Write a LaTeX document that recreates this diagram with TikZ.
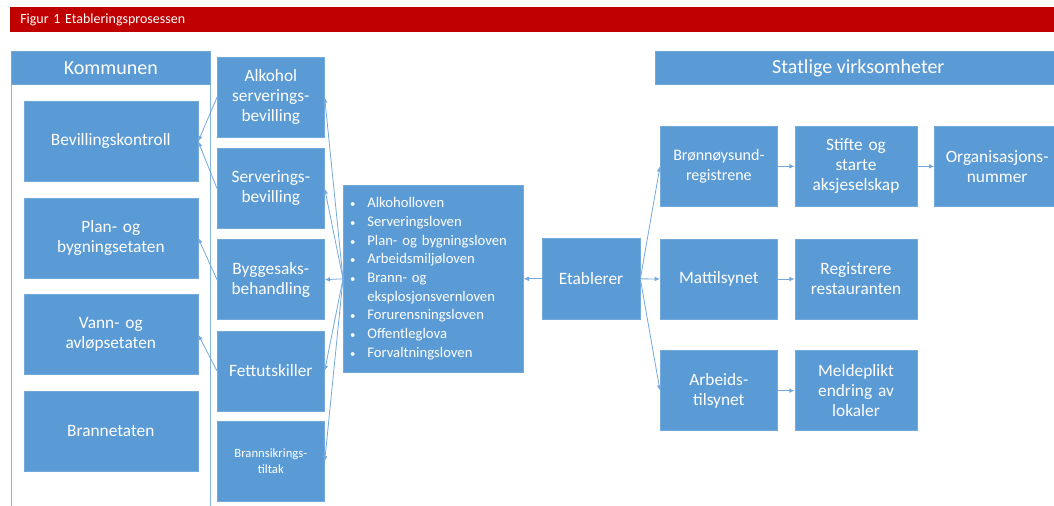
\documentclass[tikz,border=0pt]{standalone}
\usepackage{fontspec}
\setmainfont{Carlito}
\usepackage{tikz}
\usetikzlibrary{positioning, arrows.meta}
\definecolor{boksblaa}{HTML}{5B9BD5}
\definecolor{linjeblaa}{HTML}{74A9DD}
\definecolor{tittelrod}{HTML}{C00000}
\newcommand{\lovpunkt}{{\fontsize{8}{8}\selectfont\textbullet}}
\tikzset{
    tittelfelt/.style={rectangle, fill=tittelrod, text=white, text width=780pt, inner xsep=7.5pt, inner ysep=0pt, minimum height=18.75pt, align=left, font=\fontsize{10.5}{12}\selectfont},
    ramme/.style={draw=boksblaa!75!white, line width=0.6pt},
    boks_hode/.style={rectangle, draw=boksblaa!85!white, fill=boksblaa, line width=0.5pt, text=white, minimum height=24.75pt, inner sep=0pt, font=\fontsize{15}{18}\selectfont},
    boks_kommune/.style={rectangle, draw=boksblaa!85!white, fill=boksblaa, line width=0.5pt, text=white, minimum width=130.5pt, text width=124pt, minimum height=60pt, inner sep=0pt, align=center, font=\fontsize{13}{15}\selectfont},
    boks_midt/.style={rectangle, draw=boksblaa!85!white, fill=boksblaa, line width=0.5pt, text=white, minimum width=80.25pt, text width=77pt, minimum height=60pt, inner sep=0pt, align=center, font=\fontsize{13}{15}\selectfont},
    boks_lov/.style={rectangle, draw=boksblaa!85!white, fill=boksblaa, line width=0.5pt, text=white, text width=125pt, inner xsep=5pt, inner ysep=0pt, minimum height=140.25pt, align=left, font=\fontsize{11}{14}\selectfont},
    boks_stat/.style={rectangle, draw=boksblaa!85!white, fill=boksblaa, line width=0.5pt, text=white, minimum width=87.75pt, text width=85pt, minimum height=60pt, inner sep=0pt, align=center, font=\fontsize{13}{15}\selectfont},
    pil/.style={draw=linjeblaa, line width=0.6pt, -{Latex[length=4pt, width=3.5pt]}}
}
\begin{document}
\begin{tikzpicture}[x=0.75pt, y=-0.75pt, node distance=7.875pt]
    \useasboundingbox (0,0) rectangle (1054,506);
    \clip (0,0) rectangle (1054,506);

    \node[tittelfelt, anchor=north west] (tittel) at (10,7) {Figur 1 Etableringsprosessen};

    \draw[ramme] (11,520) -- (11,84) -- (210,84) -- (210,520);
    \node[boks_hode, anchor=north west, minimum width=149.25pt] (kommunen) at (11,51) {Kommunen};
    \node[boks_hode, anchor=north west, minimum width=304.5pt] (statlige) at (655,51) {Statlige virksomheter};

    \node[boks_kommune, anchor=north west] (bevilling) at (23.5,101) {Bevillingskontroll};
    \node[boks_kommune, below=12pt of bevilling] (plan) {Plan- og\\bygningsetaten};
    \node[boks_kommune, below=12pt of plan] (vann) {Vann- og\\avløpsetaten};
    \node[boks_kommune, below=12pt of vann] (brann) {Brannetaten};

    \node[boks_midt, anchor=north west] (alkohol) at (217,57) {Alkohol\\serverings-\\bevilling};
    \node[boks_midt, below=of alkohol] (servering) {Serverings-\\bevilling};
    \node[boks_midt, below=of servering] (byggesak) {Byggesaks-\\behandling};
    \node[boks_midt, below=of byggesak] (fett) {Fettutskiller};
    \node[boks_midt, below=7.5pt of fett, font=\fontsize{9.5}{12}\selectfont] (brannsikring) {Brannsikrings-\\tiltak};

    \node[boks_lov, anchor=north west] (lover) at (343,185) {%
        \begin{tabular}{@{}l@{\hspace{9pt}}l@{}}
            \lovpunkt & Alkoholloven\\
            \lovpunkt & Serveringsloven\\
            \lovpunkt & Plan- og bygningsloven\\
            \lovpunkt & Arbeidsmiljøloven\\
            \lovpunkt & Brann- og\\
                      & eksplosjonsvernloven\\
            \lovpunkt & Forurensningsloven\\
            \lovpunkt & Offentleglova\\
            \lovpunkt & Forvaltningsloven
        \end{tabular}};
    \node[boks_stat, minimum width=73.5pt, text width=70pt, right=13.5pt of lover] (etablerer) {Etablerer};

    \node[boks_stat, anchor=north west, font=\fontsize{12}{15}\selectfont] (bronnoy) at (660,126) {Brønnøysund-\\registrene};
    \node[boks_stat, minimum width=91.5pt, text width=88pt, right=12.75pt of bronnoy] (stifte) {Stifte og\\starte\\aksjeselskap};
    \node[boks_stat, minimum width=93.75pt, text width=90pt, right=12.75pt of stifte] (orgnr) {Organisasjons-\\nummer};
    \node[boks_stat, below=24pt of bronnoy] (matt) {Mattilsynet};
    \node[boks_stat, minimum width=91.5pt, text width=88pt, right=12.75pt of matt] (registrere) {Registrere\\restauranten};
    \node[boks_stat, below=23.25pt of matt] (arbeid) {Arbeids-\\tilsynet};
    \node[boks_stat, minimum width=91.5pt, text width=88pt, right=12.75pt of arbeid] (meldeplikt) {Meldeplikt\\endring av\\lokaler};

    \draw[pil] (lover.west) -- (alkohol.east);
    \draw[pil] (lover.west) -- (servering.east);
    \draw[pil] (lover.west) -- (byggesak.east);
    \draw[pil] (lover.west) -- (fett.east);
    \draw[pil] (lover.west) -- (brannsikring.east);
    \draw[pil] (alkohol.west) -- (bevilling.east);
    \draw[pil] (servering.west) -- (bevilling.east);
    \draw[pil] (byggesak.west) -- (plan.east);
    \draw[pil] (fett.west) -- (vann.east);
    \draw[pil] (etablerer.west) -- (lover.east);
    \draw[pil] (etablerer.east) -- (bronnoy.west);
    \draw[pil] (etablerer.east) -- (matt.west);
    \draw[pil] (etablerer.east) -- (arbeid.west);
    \draw[pil] (bronnoy) -- (stifte);
    \draw[pil] (stifte) -- (orgnr);
    \draw[pil] (matt) -- (registrere);
    \draw[pil] (arbeid) -- (meldeplikt);
\end{tikzpicture}
\end{document}
